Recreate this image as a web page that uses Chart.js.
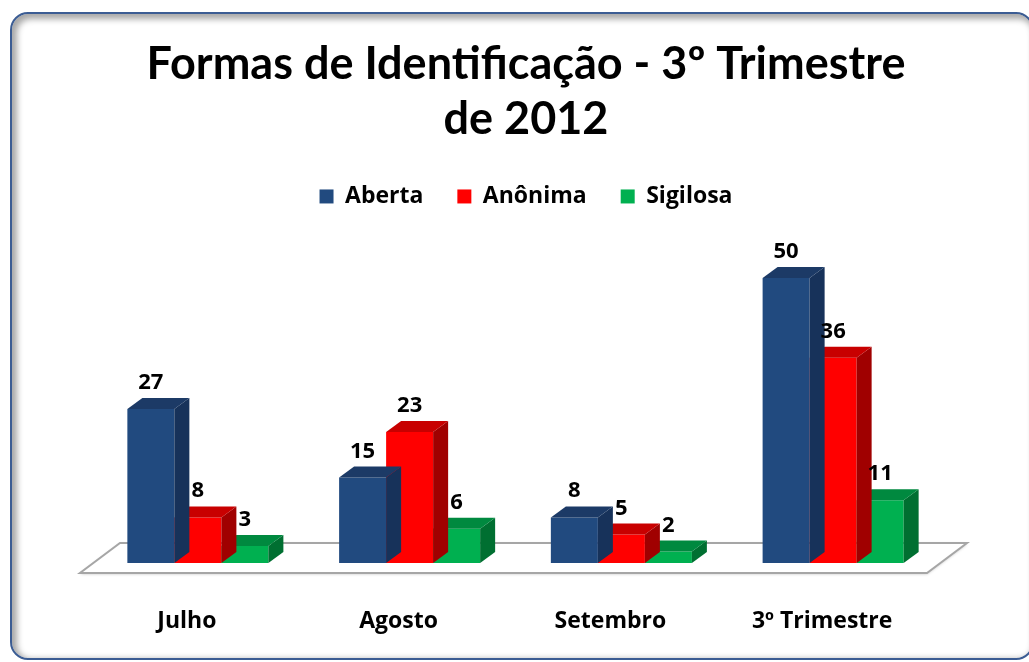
<!DOCTYPE html>
<html><head><meta charset="utf-8">
<script src="https://cdn.jsdelivr.net/npm/chart.js@4/dist/chart.umd.min.js"></script>
<style>
html,body{margin:0;padding:0;background:#fff;width:1029px;height:662px;overflow:hidden;}
#frame{position:absolute;left:10px;top:12px;width:1020px;height:644px;border:2px solid #3b5c93;border-radius:18px;box-shadow:inset 3px 3px 6px 2px rgba(0,0,0,0.35);}
#wrap{position:absolute;left:0;top:0;width:1029px;height:662px;}
</style></head>
<body>
<div id="frame"></div>
<div id="wrap"><canvas id="c" width="1029" height="662"></canvas></div>
<script>
const categories = ['Julho', 'Agosto', 'Setembro', '3º Trimestre'];
const aberta = [27, 15, 8, 50];
const anonima = [8, 23, 5, 36];
const sigilosa = [3, 6, 2, 11];
const seriesNames = ['Aberta', 'Anônima', 'Sigilosa'];
const frontColors = ['#214a7f', '#ff0000', '#00b050'];
const sideColors = ['#17325a', '#a00000', '#006f31'];
const topColors = ['#1c3a66', '#c80000', '#00893f'];
const DX = 15, DY = -11;
const PX_PER_UNIT = 5.7;
const TITLE_FONT = 'Lato, "Open Sans", sans-serif';
const FONT = '"Open Sans", Lato, sans-serif';

const floorPlugin = {
  id: 'floor',
  beforeDatasetsDraw(chart) {
    const {ctx, chartArea, scales} = chart;
    const y0 = scales.y.getPixelForValue(0);
    const fl = chartArea.left - 12, fr = chartArea.right - 12;
    const fy = y0 + 10, by = y0 - 20, bdx = 40;
    ctx.save();
    ctx.beginPath();
    ctx.moveTo(fl, fy); ctx.lineTo(fr, fy); ctx.lineTo(fr + bdx, by); ctx.lineTo(fl + bdx, by); ctx.closePath();
    ctx.fillStyle = '#ffffff';
    ctx.shadowColor = 'rgba(0,0,0,0.25)'; ctx.shadowBlur = 3; ctx.shadowOffsetY = 1;
    ctx.fill();
    ctx.shadowColor = 'transparent';
    ctx.strokeStyle = '#a6a6a6'; ctx.lineWidth = 2;
    ctx.stroke();
    ctx.restore();
  }
};

const box3dPlugin = {
  id: 'box3d',
  afterDatasetDraw(chart, args) {
    const {ctx} = chart;
    const i = args.index;
    const meta = chart.getDatasetMeta(i);
    ctx.save();
    meta.data.forEach(el => {
      const p = el.getProps(['x', 'y', 'base', 'width'], true);
      const l = p.x - p.width / 2, r = p.x + p.width / 2, t = p.y, b = p.base;
      ctx.beginPath();
      ctx.moveTo(r, t); ctx.lineTo(r + DX, t + DY); ctx.lineTo(r + DX, b + DY); ctx.lineTo(r, b); ctx.closePath();
      ctx.fillStyle = sideColors[i]; ctx.fill();
      ctx.beginPath();
      ctx.moveTo(l, t); ctx.lineTo(l + DX, t + DY); ctx.lineTo(r + DX, t + DY); ctx.lineTo(r, t); ctx.closePath();
      ctx.fillStyle = topColors[i]; ctx.fill();
    });
    ctx.restore();
  },
  afterDatasetsDraw(chart) {
    const {ctx} = chart;
    ctx.save();
    ctx.font = 'bold 22px ' + FONT;
    ctx.fillStyle = '#000';
    ctx.textAlign = 'center';
    ctx.textBaseline = 'alphabetic';
    chart.data.datasets.forEach((ds, i) => {
      chart.getDatasetMeta(i).data.forEach((el, j) => {
        ctx.fillText(String(ds.data[j]), el.x, el.y + DY - 9);
      });
    });
    ctx.restore();
  }
};

const chart = new Chart(document.getElementById('c'), {
  type: 'bar',
  data: {
    labels: categories,
    datasets: [
      {label: seriesNames[0], data: aberta, backgroundColor: frontColors[0]},
      {label: seriesNames[1], data: anonima, backgroundColor: frontColors[1]},
      {label: seriesNames[2], data: sigilosa, backgroundColor: frontColors[2]}
    ]
  },
  options: {
    responsive: false,
    animation: false,
    devicePixelRatio: 1,
    layout: {padding: {left: 92, right: 69, top: 0, bottom: 17}},
    datasets: {bar: {categoryPercentage: 0.666, barPercentage: 1.0, borderWidth: 0}},
    plugins: {
      title: {
        display: true,
        text: ['Formas de Identificação - 3º Trimestre', 'de 2012'],
        color: '#000',
        font: {family: TITLE_FONT, size: 45, weight: 'bold', lineHeight: 1.244},
        padding: {top: 36, bottom: 3}
      },
      legend: {
        display: true,
        labels: {
          color: '#000',
          boxWidth: 14, boxHeight: 14,
          padding: 34,
          font: {family: FONT, size: 23, weight: 'bold'}
        }
      },
      tooltip: {enabled: false}
    },
    scales: {
      x: {
        grid: {display: false, drawTicks: false},
        border: {display: false},
        ticks: {color: '#000', padding: 45, labelOffset: -11, font: {family: FONT, size: 23, weight: 'bold'}},
        afterFit(s) { s.height = 82; }
      },
      y: {display: false, min: 0, max: 60},
      yR: {
        type: 'linear', position: 'right', display: true,
        grid: {display: false}, border: {display: false}, ticks: {display: false},
        afterFit(s) { s.width = 21; }
      }
    }
  },
  plugins: [floorPlugin, box3dPlugin]
});
chart.options.scales.y.max = chart.chartArea.height / PX_PER_UNIT;
chart.update();
</script>
</body></html>
